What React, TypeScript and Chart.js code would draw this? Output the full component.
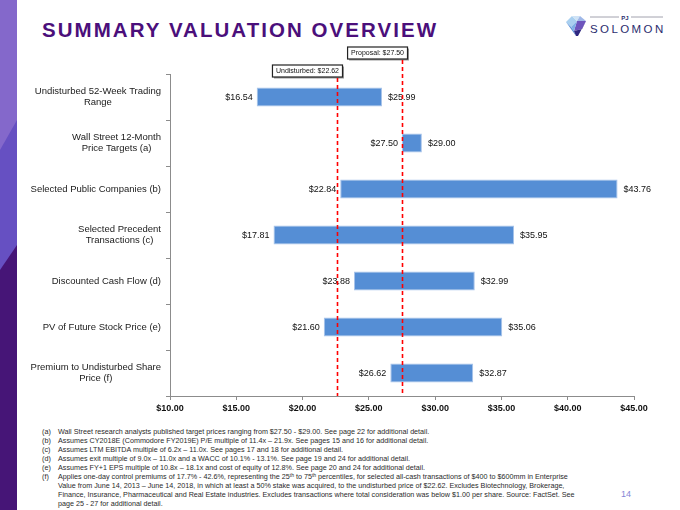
import React, { useEffect, useRef } from "react";
import { Chart, registerables } from "chart.js";

Chart.register(...registerables);

const categories: string[][] = [
  ["Undisturbed 52-Week Trading", "Range"],
  ["Wall Street 12-Month", "Price Targets (a)"],
  ["Selected Public Companies (b)"],
  ["Selected Precedent", "Transactions (c)"],
  ["Discounted Cash Flow (d)"],
  ["PV of Future Stock Price (e)"],
  ["Premium to Undisturbed Share", "Price (f)"],
];
const lowValues = [16.54, 27.5, 22.84, 17.81, 23.88, 21.6, 26.62];
const highValues = [25.99, 29.0, 43.76, 35.95, 32.99, 35.06, 32.87];
const refLabels = ["Undisturbed: $22.62", "Proposal: $27.50"];
const refValues = [22.62, 27.5];
const xTicks = [10, 15, 20, 25, 30, 35, 40, 45];

const title = "SUMMARY VALUATION OVERVIEW";
const pageNumber = "14";
const footnoteMarks = ["(a)", "(b)", "(c)", "(d)", "(e)", "(f)"];
const supStyle: React.CSSProperties = { fontSize: "70%", position: "relative", top: -2.5, lineHeight: 0 };
const footnoteLines: React.ReactNode[][] = [
  ["Wall Street research analysts published target prices ranging from $27.50 - $29.00. See page 22 for additional detail."],
  ["Assumes CY2018E (Commodore FY2019E) P/E multiple of 11.4x – 21.9x. See pages 15 and 16 for additional detail."],
  ["Assumes LTM EBITDA multiple of 6.2x – 11.0x. See pages 17 and 18 for additional detail."],
  ["Assumes exit multiple of 9.0x – 11.0x and a WACC of 10.1% - 13.1%. See page 19 and 24 for additional detail."],
  ["Assumes FY+1 EPS multiple of 10.8x – 18.1x and cost of equity of 12.8%. See page 20 and 24 for additional detail."],
  [
    <>
      Applies one-day control premiums of 17.7% - 42.6%, representing the 25<span style={supStyle}>th</span> to 75
      <span style={supStyle}>th</span> percentiles, for selected all-cash transactions of $400 to $600mm in Enterprise
    </>,
    "Value from June 14, 2013 – June 14, 2018, in which at least a 50% stake was acquired, to the undisturbed price of $22.62. Excludes Biotechnology, Brokerage,",
    "Finance, Insurance, Pharmaceutical and Real Estate industries. Excludes transactions where total consideration was below $1.00 per share. Source: FactSet. See",
    "page 25 - 27 for additional detail.",
  ],
];

const FAMILY = '"Liberation Sans", Arial, Helvetica, sans-serif';

const overlayPlugin = {
  id: "overlay",
  afterDraw(chart: any) {
    const { ctx, chartArea, scales } = chart;
    const x = scales.x;
    const y = scales.y;
    ctx.save();

    // category labels: block right-aligned, lines centred within block
    ctx.font = `9.5px ${FAMILY}`;
    ctx.fillStyle = "#1a1a1a";
    ctx.textBaseline = "middle";
    ctx.textAlign = "center";
    categories.forEach((lines, i) => {
      const cy = y.getPixelForValue(i);
      const w = Math.max(...lines.map((l) => ctx.measureText(l).width));
      const cx = chartArea.left - 9 - w / 2;
      const lh = 11;
      lines.forEach((l, j) => {
        ctx.fillText(l, cx, cy + (j - (lines.length - 1) / 2) * lh);
      });
    });

    // data labels
    ctx.font = `9px ${FAMILY}`;
    ctx.fillStyle = "#111";
    lowValues.forEach((v, i) => {
      ctx.textAlign = "right";
      ctx.fillText("$" + v.toFixed(2), x.getPixelForValue(v) - 4, y.getPixelForValue(i) + 0.5);
    });
    highValues.forEach((v, i) => {
      ctx.textAlign = "left";
      ctx.fillText("$" + v.toFixed(2), x.getPixelForValue(v) + 6, y.getPixelForValue(i) + 0.5);
    });

    // reference lines with boxes
    const boxTops = [65, 47];
    refValues.forEach((v, i) => {
      const px = Math.round(x.getPixelForValue(v)) + 0.5;
      ctx.font = `7px ${FAMILY}`;
      const tw = ctx.measureText(refLabels[i]).width;
      const bw = tw + 7;
      const bh = 12;
      const bx = px + 5 - bw;
      const by = boxTops[i];
      ctx.setLineDash([]);
      ctx.fillStyle = "#9a9a9a";
      ctx.fillRect(bx + 1.5, by + 1.5, bw, bh);
      ctx.fillStyle = "#fff";
      ctx.fillRect(bx, by, bw, bh);
      ctx.strokeStyle = "#222";
      ctx.lineWidth = 1.2;
      ctx.strokeRect(bx, by, bw, bh);
      ctx.fillStyle = "#111";
      ctx.textAlign = "center";
      ctx.textBaseline = "middle";
      ctx.fillText(refLabels[i], bx + bw / 2, by + bh / 2 + 0.5);

      ctx.beginPath();
      ctx.setLineDash([4, 3]);
      ctx.strokeStyle = "#ff0000";
      ctx.lineWidth = 1.6;
      ctx.moveTo(px, by + bh + 1);
      ctx.lineTo(px, chartArea.bottom);
      ctx.stroke();
    });
    ctx.restore();
  },
};

function ChartCanvas() {
  const ref = useRef<HTMLCanvasElement | null>(null);
  useEffect(() => {
    if (!ref.current) return;
    const chart = new Chart(ref.current, {
      type: "bar",
      data: {
        labels: categories.map((c) => c.join(" ")),
        datasets: [
          {
            data: lowValues.map((lo, i) => [lo, highValues[i]]) as any,
            backgroundColor: "#558ED5",
            borderColor: "#a7c3ea",
            borderWidth: 1,
            borderSkipped: false,
            categoryPercentage: 1,
            barPercentage: 0.41,
          },
        ],
      },
      options: {
        indexAxis: "y",
        responsive: false,
        animation: false,
        devicePixelRatio: 1,
        layout: { padding: { top: 74, right: 46, left: 0, bottom: 0 } },
        plugins: { legend: { display: false }, tooltip: { enabled: false } },
        scales: {
          x: {
            type: "linear",
            min: 10,
            max: 45,
            afterBuildTicks: (s: any) => {
              s.ticks = xTicks.map((v) => ({ value: v }));
            },
            ticks: {
              callback: (v: any) => "$" + Number(v).toFixed(2),
              font: { family: FAMILY, size: 9, weight: "bold" },
              color: "#111",
              padding: 3,
              maxRotation: 0,
              autoSkip: false,
            },
            grid: { drawOnChartArea: false, drawTicks: true, tickLength: 4, color: "#8c8c8c" },
            border: { color: "#8c8c8c", width: 1 },
            afterFit: (s: any) => {
              s.height = 24;
            },
          },
          y: {
            type: "category",
            ticks: { display: false },
            grid: { drawOnChartArea: false, drawTicks: true, tickLength: 4, color: "#8c8c8c", offset: true },
            border: { color: "#8c8c8c", width: 1 },
            afterFit: (s: any) => {
              s.width = 170;
            },
          },
        },
      } as any,
      plugins: [overlayPlugin],
    });
    return () => chart.destroy();
  }, []);
  return (
    <canvas
      ref={ref}
      width={680}
      height={420}
      style={{ position: "absolute", left: 0, top: 0, width: 680, height: 420 }}
    />
  );
}

function SideStrip() {
  return (
    <svg width={17} height={510} style={{ position: "absolute", left: 0, top: 0 }}>
      <rect x={0} y={0} width={17} height={510} fill="#461577" />
      <polygon points="0,0 17,0 17,245 0,270" fill="#6650c2" />
      <polygon points="0,0 17,0 17,120 0,150" fill="#8468cb" />
    </svg>
  );
}

function Logo() {
  return (
    <div style={{ position: "absolute", left: 564, top: 10, width: 110, height: 30 }}>
      <svg width={26} height={26} style={{ position: "absolute", left: 0, top: 4 }}>
        <polygon points="2,8 8,2 13,7 7,13" fill="#a9d0f0" />
        <polygon points="8,2 16,2 13,7" fill="#cfe3f6" />
        <polygon points="16,2 22,7 13,7" fill="#9fb8e8" />
        <polygon points="13,7 22,7 18,15 10,17" fill="#6e55bd" />
        <polygon points="2,8 7,13 10,17 12,22" fill="#5a8fd8" />
        <polygon points="7,13 13,7 10,17" fill="#7fb0e6" />
        <polygon points="10,17 18,15 22,7 14,22 12,22" fill="#2f2780" />
      </svg>
      <svg width={80} height={10} style={{ position: "absolute", left: 26, top: 2 }}>
        <line x1={0} y1={5} x2={29} y2={5} stroke="#8a8a9a" strokeWidth={0.8} />
        <line x1={41} y1={5} x2={73} y2={5} stroke="#8a8a9a" strokeWidth={0.8} />
        <text x={35} y={7.5} fontSize={6} fontWeight="bold" textAnchor="middle" fill="#2b2d6e" fontFamily={FAMILY}>
          PJ
        </text>
      </svg>
      <div
        style={{
          position: "absolute",
          left: 26,
          top: 13,
          fontFamily: FAMILY,
          fontSize: 11.5,
          letterSpacing: 2.4,
          color: "#2b2d6e",
          lineHeight: "12px",
          whiteSpace: "nowrap",
        }}
      >
        SOLOMON
      </div>
    </div>
  );
}

export default function App() {
  return (
    <div
      style={{
        position: "absolute",
        left: 0,
        top: 0,
        width: 680,
        height: 510,
        background: "#fff",
        overflow: "hidden",
        fontFamily: FAMILY,
      }}
    >
      <SideStrip />
      <div
        style={{
          position: "absolute",
          left: 42,
          top: 20,
          fontSize: 20.5,
          lineHeight: "20.5px",
          fontWeight: "bold",
          letterSpacing: 2.05,
          color: "#4b0f7b",
          whiteSpace: "nowrap",
        }}
      >
        {title}
      </div>
      <Logo />
      <ChartCanvas />
      <div style={{ position: "absolute", left: 42, top: 427, fontSize: 7.2, color: "#2a2a2a", lineHeight: "9px" }}>
        {footnoteMarks.map((m, i) => (
          <div key={m} style={{ display: "flex" }}>
            <div style={{ width: 16, flex: "none" }}>{m}</div>
            <div>
              {footnoteLines[i].map((l, j) => (
                <div key={j} style={{ whiteSpace: "nowrap", height: 9 }}>
                  {l}
                </div>
              ))}
            </div>
          </div>
        ))}
      </div>
      <div style={{ position: "absolute", left: 621, top: 489, fontSize: 9, color: "#8585d6" }}>{pageNumber}</div>
    </div>
  );
}
